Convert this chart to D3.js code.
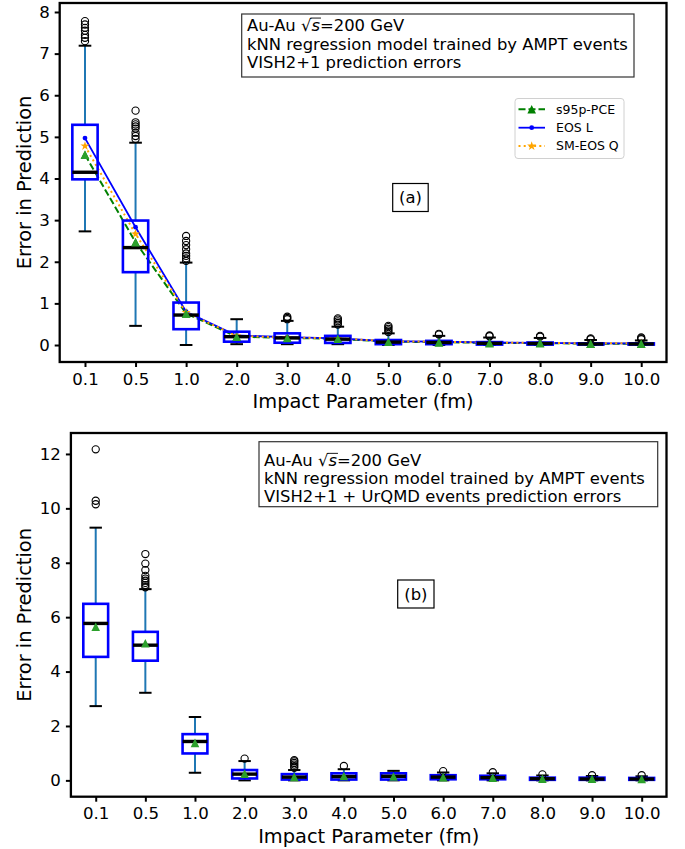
<!DOCTYPE html>
<html>
<head>
<meta charset="utf-8">
<script src="https://cdn.jsdelivr.net/npm/d3@7"></script>
<style>
  body { margin: 0; background: #fff; }
  svg { display: block; }
  text { font-family: "DejaVu Sans", sans-serif; fill: #000; }
</style>
</head>
<body>
<svg id="chart" width="685" height="849"></svg>
<script>
// Impact parameter bins (fm)
const categories = ["0.1", "0.5", "1.0", "2.0", "3.0", "4.0", "5.0", "6.0", "7.0", "8.0", "9.0", "10.0"];

// ---- Panel (a): VISH2+1 prediction errors ----
const aQ1  = [3.98, 1.75, 0.38, 0.08, 0.055, 0.05, 0.02, 0.02, 0.01, 0.01, 0.01, 0.01];
const aMed = [4.15, 2.34, 0.72, 0.20, 0.17, 0.14, 0.07, 0.06, 0.04, 0.035, 0.025, 0.025];
const aQ3  = [5.29, 2.99, 1.02, 0.32, 0.28, 0.22, 0.12, 0.10, 0.07, 0.06, 0.04, 0.04];
const aLo  = [2.73, 0.46, 0.00, 0.02, 0.02, 0.02, 0.00, 0.00, 0.00, 0.00, 0.00, 0.00];
const aHi  = [7.19, 4.86, 1.98, 0.62, 0.58, 0.44, 0.28, 0.22, 0.18, 0.17, 0.12, 0.11];
const aFliers = [
  [7.30, 7.38, 7.45, 7.55, 7.62, 7.70, 7.78],
  [4.95, 5.02, 5.10, 5.20, 5.25, 5.30, 5.35, 5.63],
  [2.02, 2.08, 2.14, 2.20, 2.30, 2.40, 2.50, 2.62],
  [],
  [0.62, 0.65, 0.68],
  [0.49, 0.53, 0.57, 0.61, 0.64],
  [0.31, 0.35, 0.39, 0.43, 0.46],
  [0.25, 0.27],
  [0.21, 0.23],
  [0.20, 0.22],
  [0.14, 0.16],
  [0.14, 0.16, 0.18]
];
// Mean error per bin for each EOS
const s95pPCE = [4.57, 2.47, 0.76, 0.20, 0.17, 0.15, 0.08, 0.07, 0.05, 0.05, 0.03, 0.03];
const eosL    = [4.97, 2.83, 0.80, 0.23, 0.19, 0.16, 0.09, 0.08, 0.06, 0.05, 0.04, 0.04];
const smEosQ  = [4.78, 2.67, 0.78, 0.22, 0.18, 0.16, 0.09, 0.08, 0.06, 0.05, 0.04, 0.04];
const aTicks = [0, 1, 2, 3, 4, 5, 6, 7, 8];

// ---- Panel (b): VISH2+1 + UrQMD prediction errors ----
const bQ1  = [4.54, 4.40, 0.99, 0.07, 0.03, 0.03, 0.03, 0.04, 0.04, 0.02, 0.02, 0.02];
const bMed = [5.77, 4.97, 1.43, 0.23, 0.12, 0.14, 0.15, 0.12, 0.10, 0.06, 0.05, 0.05];
const bQ3  = [6.49, 5.46, 1.70, 0.38, 0.23, 0.26, 0.26, 0.19, 0.17, 0.10, 0.10, 0.09];
const bLo  = [2.73, 3.22, 0.28, 0.00, 0.00, 0.00, 0.00, 0.00, 0.00, 0.00, 0.00, 0.00];
const bHi  = [9.29, 7.03, 2.33, 0.71, 0.38, 0.41, 0.35, 0.29, 0.26, 0.18, 0.16, 0.15];
const bFliers = [
  [10.15, 10.28, 12.17],
  [7.10, 7.18, 7.26, 7.34, 7.42, 7.52, 7.73, 7.97, 8.32],
  [],
  [0.80],
  [0.46, 0.52, 0.58, 0.64, 0.70, 0.74],
  [0.53],
  [],
  [0.34],
  [0.30],
  [0.22],
  [0.19],
  [0.19]
];
const bMean = [5.65, 5.04, 1.38, 0.25, 0.13, 0.16, 0.14, 0.12, 0.10, 0.06, 0.06, 0.05];
const bTicks = [0, 2, 4, 6, 8, 10, 12];

const legendLabels = ["s95p-PCE", "EOS L", "SM-EOS Q"];

const svg = d3.select("#chart");

const BOX_BLUE = "#0000ff", WHISKER = "#1f77b4", MEAN_GREEN = "#2ca02c";

function trianglePath(cx, cy, s) {
  return `M${cx},${cy - s}L${cx - s},${cy + s}L${cx + s},${cy + s}Z`;
}

function drawMarker(g, kind, cx, cy, color) {
  if (kind === "tri") {
    g.append("path").attr("d", trianglePath(cx, cy, 4.3)).attr("fill", color);
  } else if (kind === "dot") {
    g.append("circle").attr("cx", cx).attr("cy", cy).attr("r", 2.4).attr("fill", color);
  } else if (kind === "star") {
    g.append("path").attr("d", d3.symbol(d3.symbolStar, 26)())
      .attr("transform", `translate(${cx},${cy})`).attr("fill", color);
  }
}

function drawPanel(cfg) {
  const g = svg.append("g");
  const x = d3.scalePoint().domain(categories).range([cfg.left, cfg.right]).padding(0.5);
  const y = d3.scaleLinear().domain(cfg.yDomain).range([cfg.bottom, cfg.top]);
  const step = x.step();
  const bw = step * 0.5, cw = bw * 0.5;

  // Mean lines with markers (drawn beneath the boxes' mean triangles)
  const lineGen = d3.line().x((d, i) => x(categories[i])).y(d => y(d));
  (cfg.series || []).forEach(s => {
    g.append("path").datum(s.values).attr("d", lineGen)
      .attr("fill", "none").attr("stroke", s.color).attr("stroke-width", s.width)
      .attr("stroke-dasharray", s.dash || null);
    s.values.forEach((v, i) => drawMarker(g, s.marker, x(categories[i]), y(v), s.color));
  });

  // Boxes
  categories.forEach((c, i) => {
    const cx = x(c);
    const bg = g.append("g");
    bg.append("line").attr("x1", cx).attr("x2", cx).attr("y1", y(cfg.q1[i])).attr("y2", y(cfg.lo[i]))
      .attr("stroke", WHISKER).attr("stroke-width", 2);
    bg.append("line").attr("x1", cx).attr("x2", cx).attr("y1", y(cfg.q3[i])).attr("y2", y(cfg.hi[i]))
      .attr("stroke", WHISKER).attr("stroke-width", 2);
    [cfg.lo[i], cfg.hi[i]].forEach(v => {
      bg.append("line").attr("x1", cx - cw / 2).attr("x2", cx + cw / 2).attr("y1", y(v)).attr("y2", y(v))
        .attr("stroke", "#000").attr("stroke-width", 2);
    });
    bg.append("rect").attr("x", cx - bw / 2).attr("width", bw)
      .attr("y", y(cfg.q3[i])).attr("height", Math.max(0.5, y(cfg.q1[i]) - y(cfg.q3[i])))
      .attr("fill", "none").attr("stroke", BOX_BLUE).attr("stroke-width", 2.6);
    bg.append("line").attr("x1", cx - bw / 2).attr("x2", cx + bw / 2)
      .attr("y1", y(cfg.med[i])).attr("y2", y(cfg.med[i]))
      .attr("stroke", "#000").attr("stroke-width", 3.4);
    cfg.fliers[i].forEach(v => {
      bg.append("circle").attr("cx", cx).attr("cy", y(v)).attr("r", 3.6)
        .attr("fill", "none").attr("stroke", "#000").attr("stroke-width", 1.1);
    });
    drawMarker(bg, "tri", cx, y(cfg.mean[i]), MEAN_GREEN);
  });

  // Frame
  g.append("rect").attr("x", cfg.left).attr("y", cfg.top)
    .attr("width", cfg.right - cfg.left).attr("height", cfg.bottom - cfg.top)
    .attr("fill", "none").attr("stroke", "#000").attr("stroke-width", 2.3);

  // Axes
  const xAxis = g.append("g").attr("transform", `translate(0,${cfg.bottom})`)
    .call(d3.axisBottom(x).tickSize(5).tickPadding(6));
  const yAxis = g.append("g").attr("transform", `translate(${cfg.left},0)`)
    .call(d3.axisLeft(y).tickValues(cfg.yTicks).tickSize(5).tickPadding(5).tickFormat(d3.format("d")));
  [xAxis, yAxis].forEach(a => {
    a.select(".domain").remove();
    a.selectAll(".tick line").attr("stroke", "#000").attr("stroke-width", 2);
    a.selectAll(".tick text").attr("font-size", 16.6).attr("fill", "#000")
      .style("font-family", '"DejaVu Sans", sans-serif');
  });
  xAxis.selectAll(".tick text").attr("dy", "0.71em");

  // Axis labels
  g.append("text").attr("x", (cfg.left + cfg.right) / 2).attr("y", cfg.bottom + 46)
    .attr("text-anchor", "middle").attr("font-size", 19.4).text("Impact Parameter (fm)");
  g.append("text").attr("transform", `translate(31,${(cfg.top + cfg.bottom) / 2}) rotate(-90)`)
    .attr("text-anchor", "middle").attr("font-size", 19.4).text("Error in Prediction");

  // Info box
  const ib = cfg.info;
  g.append("rect").attr("x", ib.x).attr("y", ib.y).attr("width", ib.w).attr("height", ib.h)
    .attr("fill", "#fff").attr("stroke", "#333").attr("stroke-width", 1.2);
  const fs = 16.4;
  const t1 = g.append("text").attr("x", ib.tx).attr("y", ib.ty).attr("font-size", fs);
  t1.append("tspan").text("Au-Au ");
  t1.append("tspan").text("\u221A");
  t1.append("tspan").attr("font-style", "italic").text("s");
  t1.append("tspan").text("=200 GeV");
  // overline of the square root
  const node = t1.node();
  const x0 = node.getEndPositionOfChar(6).x - 1;
  const x1 = node.getEndPositionOfChar(7).x + 1;
  g.append("line").attr("x1", x0).attr("x2", x1)
    .attr("y1", ib.ty - fs * 0.77).attr("y2", ib.ty - fs * 0.77)
    .attr("stroke", "#000").attr("stroke-width", 0.9);
  ib.lines.forEach((ln, k) => {
    g.append("text").attr("x", ib.tx).attr("y", ib.ty + (k + 1) * ib.lh).attr("font-size", fs).text(ln);
  });

  // Panel tag
  const tg = cfg.tag;
  g.append("rect").attr("x", tg.x).attr("y", tg.y).attr("width", tg.w).attr("height", tg.h)
    .attr("fill", "#fff").attr("stroke", "#000").attr("stroke-width", 1.2);
  g.append("text").attr("x", tg.x + tg.w / 2).attr("y", tg.y + tg.h / 2).attr("dy", "0.35em")
    .attr("text-anchor", "middle").attr("font-size", fs).text(tg.label);

  // Legend
  if (cfg.legend) {
    const L = cfg.legend;
    g.append("rect").attr("x", L.x).attr("y", L.y).attr("width", L.w).attr("height", L.h)
      .attr("rx", 3).attr("fill", "#fff").attr("fill-opacity", 0.8)
      .attr("stroke", "#d0d0d0").attr("stroke-width", 1);
    cfg.series.forEach((s, k) => {
      const yy = L.y + 10.8 + k * 18.4;
      g.append("line").attr("x1", L.x + 3.5).attr("x2", L.x + 30).attr("y1", yy).attr("y2", yy)
        .attr("stroke", s.color).attr("stroke-width", s.width).attr("stroke-dasharray", s.dash || null);
      drawMarker(g, s.marker, L.x + 16.7, yy, s.color);
      g.append("text").attr("x", L.x + 41).attr("y", yy).attr("dy", "0.35em")
        .attr("font-size", 12.5).text(s.label);
    });
  }
}

drawPanel({
  left: 59.7, right: 666.5, top: 3, bottom: 362,
  yDomain: [-0.408, 8.216], yTicks: aTicks,
  q1: aQ1, med: aMed, q3: aQ3, lo: aLo, hi: aHi, fliers: aFliers, mean: s95pPCE,
  series: [
    { label: legendLabels[0], values: s95pPCE, color: "#008000", width: 2, dash: "7,3", marker: "tri" },
    { label: legendLabels[1], values: eosL, color: "#0000ff", width: 1.8, marker: "dot" },
    { label: legendLabels[2], values: smEosQ, color: "#ffa500", width: 2, dash: "2,3.2", marker: "star" }
  ],
  legend: { x: 515, y: 98.5, w: 109, h: 60 },
  info: { x: 241.7, y: 14, w: 392.3, h: 63, tx: 247, ty: 30.7, lh: 18.8,
          lines: ["kNN regression model trained by AMPT events", "VISH2+1 prediction errors"] },
  tag: { x: 392.7, y: 183.5, w: 35.5, h: 28, label: "(a)" }
});

drawPanel({
  left: 70.9, right: 666.5, top: 433, bottom: 796.7,
  yDomain: [-0.60, 12.77], yTicks: bTicks,
  q1: bQ1, med: bMed, q3: bQ3, lo: bLo, hi: bHi, fliers: bFliers, mean: bMean,
  series: [],
  legend: null,
  info: { x: 259, y: 441.7, w: 398.7, h: 65, tx: 264, ty: 466, lh: 17.8,
          lines: ["kNN regression model trained by AMPT events", "VISH2+1 + UrQMD events prediction errors"] },
  tag: { x: 397.7, y: 580, w: 36.3, h: 28, label: "(b)" }
});
</script>
</body>
</html>
